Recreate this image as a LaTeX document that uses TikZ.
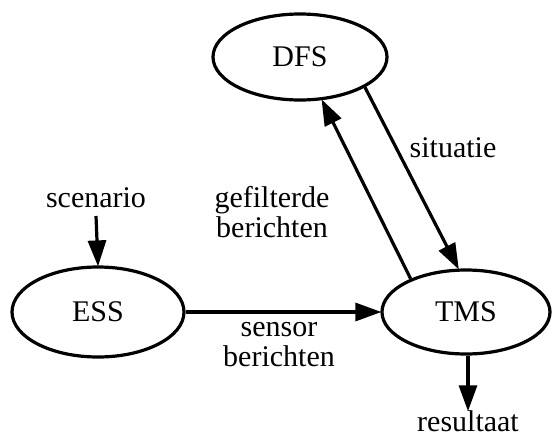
\documentclass[tikz,border=0pt]{standalone}
\usepackage{fontspec}
\setmainfont{Liberation Serif}
\usetikzlibrary{shapes.geometric,arrows.meta}
\begin{document}
\begin{tikzpicture}[x=1pt,y=-1pt,
  every node/.style={font=\fontsize{30}{30}\selectfont, inner sep=0pt},
  proc/.style={ellipse, draw, line width=3.2pt},
  lbl/.style={align=center},
  conn/.style={line width=3.2pt, -{Triangle[length=26pt,width=18pt]}, shorten >=-1pt}]
\useasboundingbox (0,0) rectangle (552,437);
\node[proc, minimum width=174pt, minimum height=86pt] (dfs) at (300,57) {DFS};
\node[proc, minimum width=172pt, minimum height=90pt] (ess) at (98,312) {ESS};
\node[proc, minimum width=168pt, minimum height=84pt] (tms) at (466,312) {TMS};
\node[lbl] (scen) at (96,198) {scenario};
\node[lbl] (gef) at (272,212) {gefilterde\\berichten};
\node[lbl] (sens) at (279,345) {sensor\\berichten};
\node[lbl] (sit) at (453,148) {situatie};
\node[lbl] (res) at (468,421) {resultaat};
\coordinate (scenend) at (96,216);
\coordinate (resend) at (468,352);
\draw[conn] (scenend) -- (ess.north);
\draw[conn] (ess.east) -- (tms.west);
\draw[conn] (tms.149) -- (dfs.-63);
\draw[conn] (dfs.-25.5) -- (tms.100);
\draw[conn] (tms.south -| resend) -- (res.north);
\end{tikzpicture}
\end{document}
